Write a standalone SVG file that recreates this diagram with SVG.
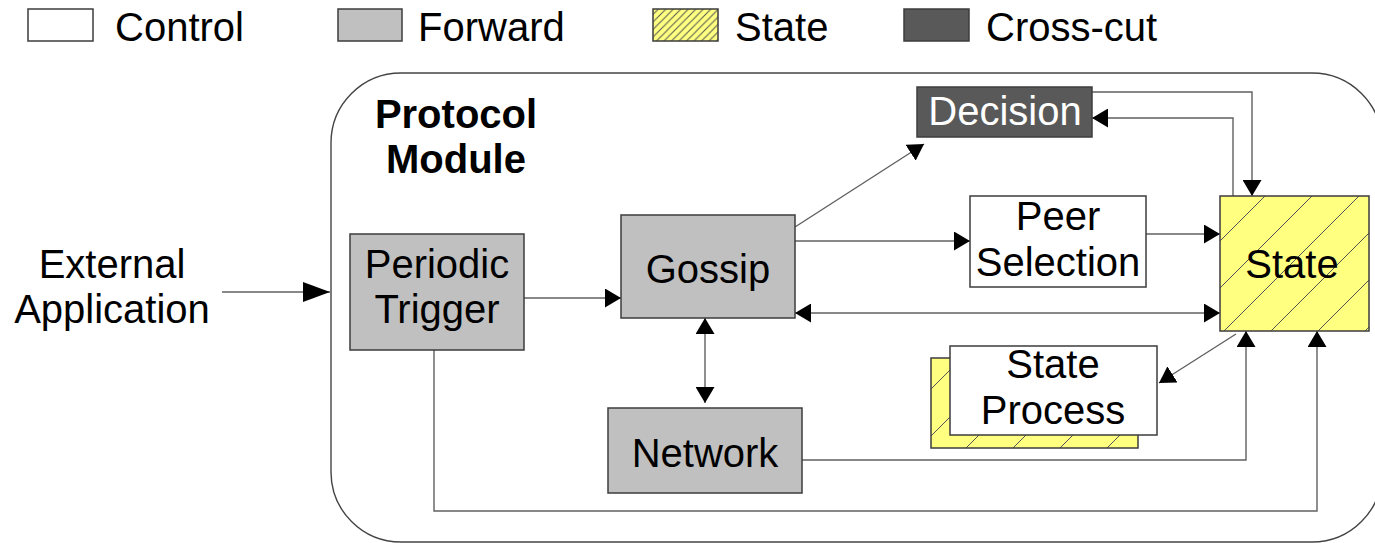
<svg xmlns="http://www.w3.org/2000/svg" width="1375" height="543" viewBox="0 0 1375 543">
  <style>
    text { font-family: "Liberation Sans", Arial, Helvetica, sans-serif; font-size: 40px; fill: #000; }
    .mid { text-anchor: middle; }
    .bold { font-weight: bold; }
    .light { fill: #fff; }
    .box { stroke: #3c3c3c; stroke-width: 1.5; }
    .control { fill: #fff; }
    .forward { fill: #c0c0c0; }
    .crosscut { fill: #595959; }
    .state { fill: url(#hatch); }
    .wire { fill: none; stroke: #606060; stroke-width: 1.4; }
    .arrow { marker-end: url(#head); }
    .both { marker-start: url(#head); marker-end: url(#head); }
    .entry { marker-end: url(#headLong); }
  </style>
  <defs>
    <marker id="head" markerUnits="userSpaceOnUse" markerWidth="16" markerHeight="19" refX="16" refY="9.5" orient="auto-start-reverse" viewBox="0 0 16 19">
      <path d="M0,0 L16,9.5 L0,19 Z" fill="#000"/>
    </marker>
    <marker id="headLong" markerUnits="userSpaceOnUse" markerWidth="27" markerHeight="20" refX="27" refY="10" orient="auto" viewBox="0 0 27 20">
      <path d="M0,0 L27,10 L0,20 Z" fill="#000"/>
    </marker>
    <!-- wide diagonal hatch on yellow for state blocks -->
    <pattern id="hatch" patternUnits="userSpaceOnUse" x="4" y="0" width="47" height="47">
      <rect width="47" height="47" fill="#ffff80"/>
      <path d="M-2,49 L49,-2 M-2,2 L2,-2 M45,49 L49,45" stroke="#555" stroke-width="1"/>
    </pattern>
    <!-- fine hatch used by the legend swatch -->
    <pattern id="hatchFine" patternUnits="userSpaceOnUse" x="0" y="0" width="7.5" height="7.5">
      <rect width="7.5" height="7.5" fill="#ffff80"/>
      <path d="M-1,8.5 L8.5,-1 M-1,1 L1,-1 M6.5,8.5 L8.5,6.5" stroke="#555" stroke-width="1"/>
    </pattern>
  </defs>

  <!-- legend -->
  <g id="legend">
    <rect class="box control" x="28" y="9" width="65" height="32"/>
    <text x="115" y="41">Control</text>
    <rect class="box forward" x="338" y="9" width="64" height="32"/>
    <text x="418" y="41">Forward</text>
    <rect class="box" x="653" y="9" width="65" height="32" fill="url(#hatchFine)"/>
    <text x="735" y="41">State</text>
    <rect class="box crosscut" x="904" y="9" width="65" height="32"/>
    <text x="986" y="41">Cross-cut</text>
  </g>

  <!-- module boundary -->
  <g id="protocol-module">
    <rect x="331" y="73" width="1051" height="469" rx="70" ry="70" fill="#fff" stroke="#444" stroke-width="1.4"/>
    <text class="mid bold" x="456" y="128">Protocol</text>
    <text class="mid bold" x="456" y="173">Module</text>
  </g>

  <g id="external-application">
    <text class="mid" x="112" y="278">External</text>
    <text class="mid" x="112" y="323">Application</text>
  </g>

  <!-- connectors -->
  <g id="connectors">
    <path class="wire entry" d="M222,292 H330"/>
    <path class="wire arrow" d="M524,298 H621"/>
    <path class="wire arrow" d="M795,227 L924,144"/>
    <path class="wire arrow" d="M795,241 H970"/>
    <path class="wire arrow" d="M1146,234 H1220"/>
    <path class="wire both" d="M795,313 H1220"/>
    <path class="wire both" d="M705,318 V403"/>
    <path class="wire arrow" d="M1092,92 H1252 V196"/>
    <path class="wire arrow" d="M1233,196 V118 H1092"/>
    <path class="wire arrow" d="M1236,334 L1159,383"/>
    <path class="wire arrow" d="M802,460 H1246 V331"/>
    <path class="wire arrow" d="M434,350 V511 H1317 V331"/>
  </g>

  <!-- nodes -->
  <g id="periodic-trigger">
    <rect class="box forward" x="350" y="234" width="174" height="116"/>
    <text class="mid" x="437" y="278">Periodic</text>
    <text class="mid" x="437" y="323">Trigger</text>
  </g>

  <g id="gossip">
    <rect class="box forward" x="621" y="215" width="174" height="103"/>
    <text class="mid" x="708" y="283">Gossip</text>
  </g>

  <g id="network">
    <rect class="box forward" x="608" y="408" width="194" height="85"/>
    <text class="mid" x="705" y="467">Network</text>
  </g>

  <g id="decision">
    <rect class="box crosscut" x="917" y="87" width="175" height="50"/>
    <text class="mid light" x="1005" y="125">Decision</text>
  </g>

  <g id="peer-selection">
    <rect class="box control" x="970" y="196" width="176" height="91"/>
    <text class="mid" x="1058" y="230">Peer</text>
    <text class="mid" x="1058" y="276">Selection</text>
  </g>

  <g id="state">
    <rect class="box state" x="1220" y="196" width="149" height="135"/>
    <text class="mid" x="1292" y="278">State</text>
  </g>

  <g id="state-process">
    <rect class="box state" x="931" y="358" width="207" height="90"/>
    <rect class="box control" x="950" y="346" width="207" height="89"/>
    <text class="mid" x="1053" y="378">State</text>
    <text class="mid" x="1053" y="424">Process</text>
  </g>
</svg>
